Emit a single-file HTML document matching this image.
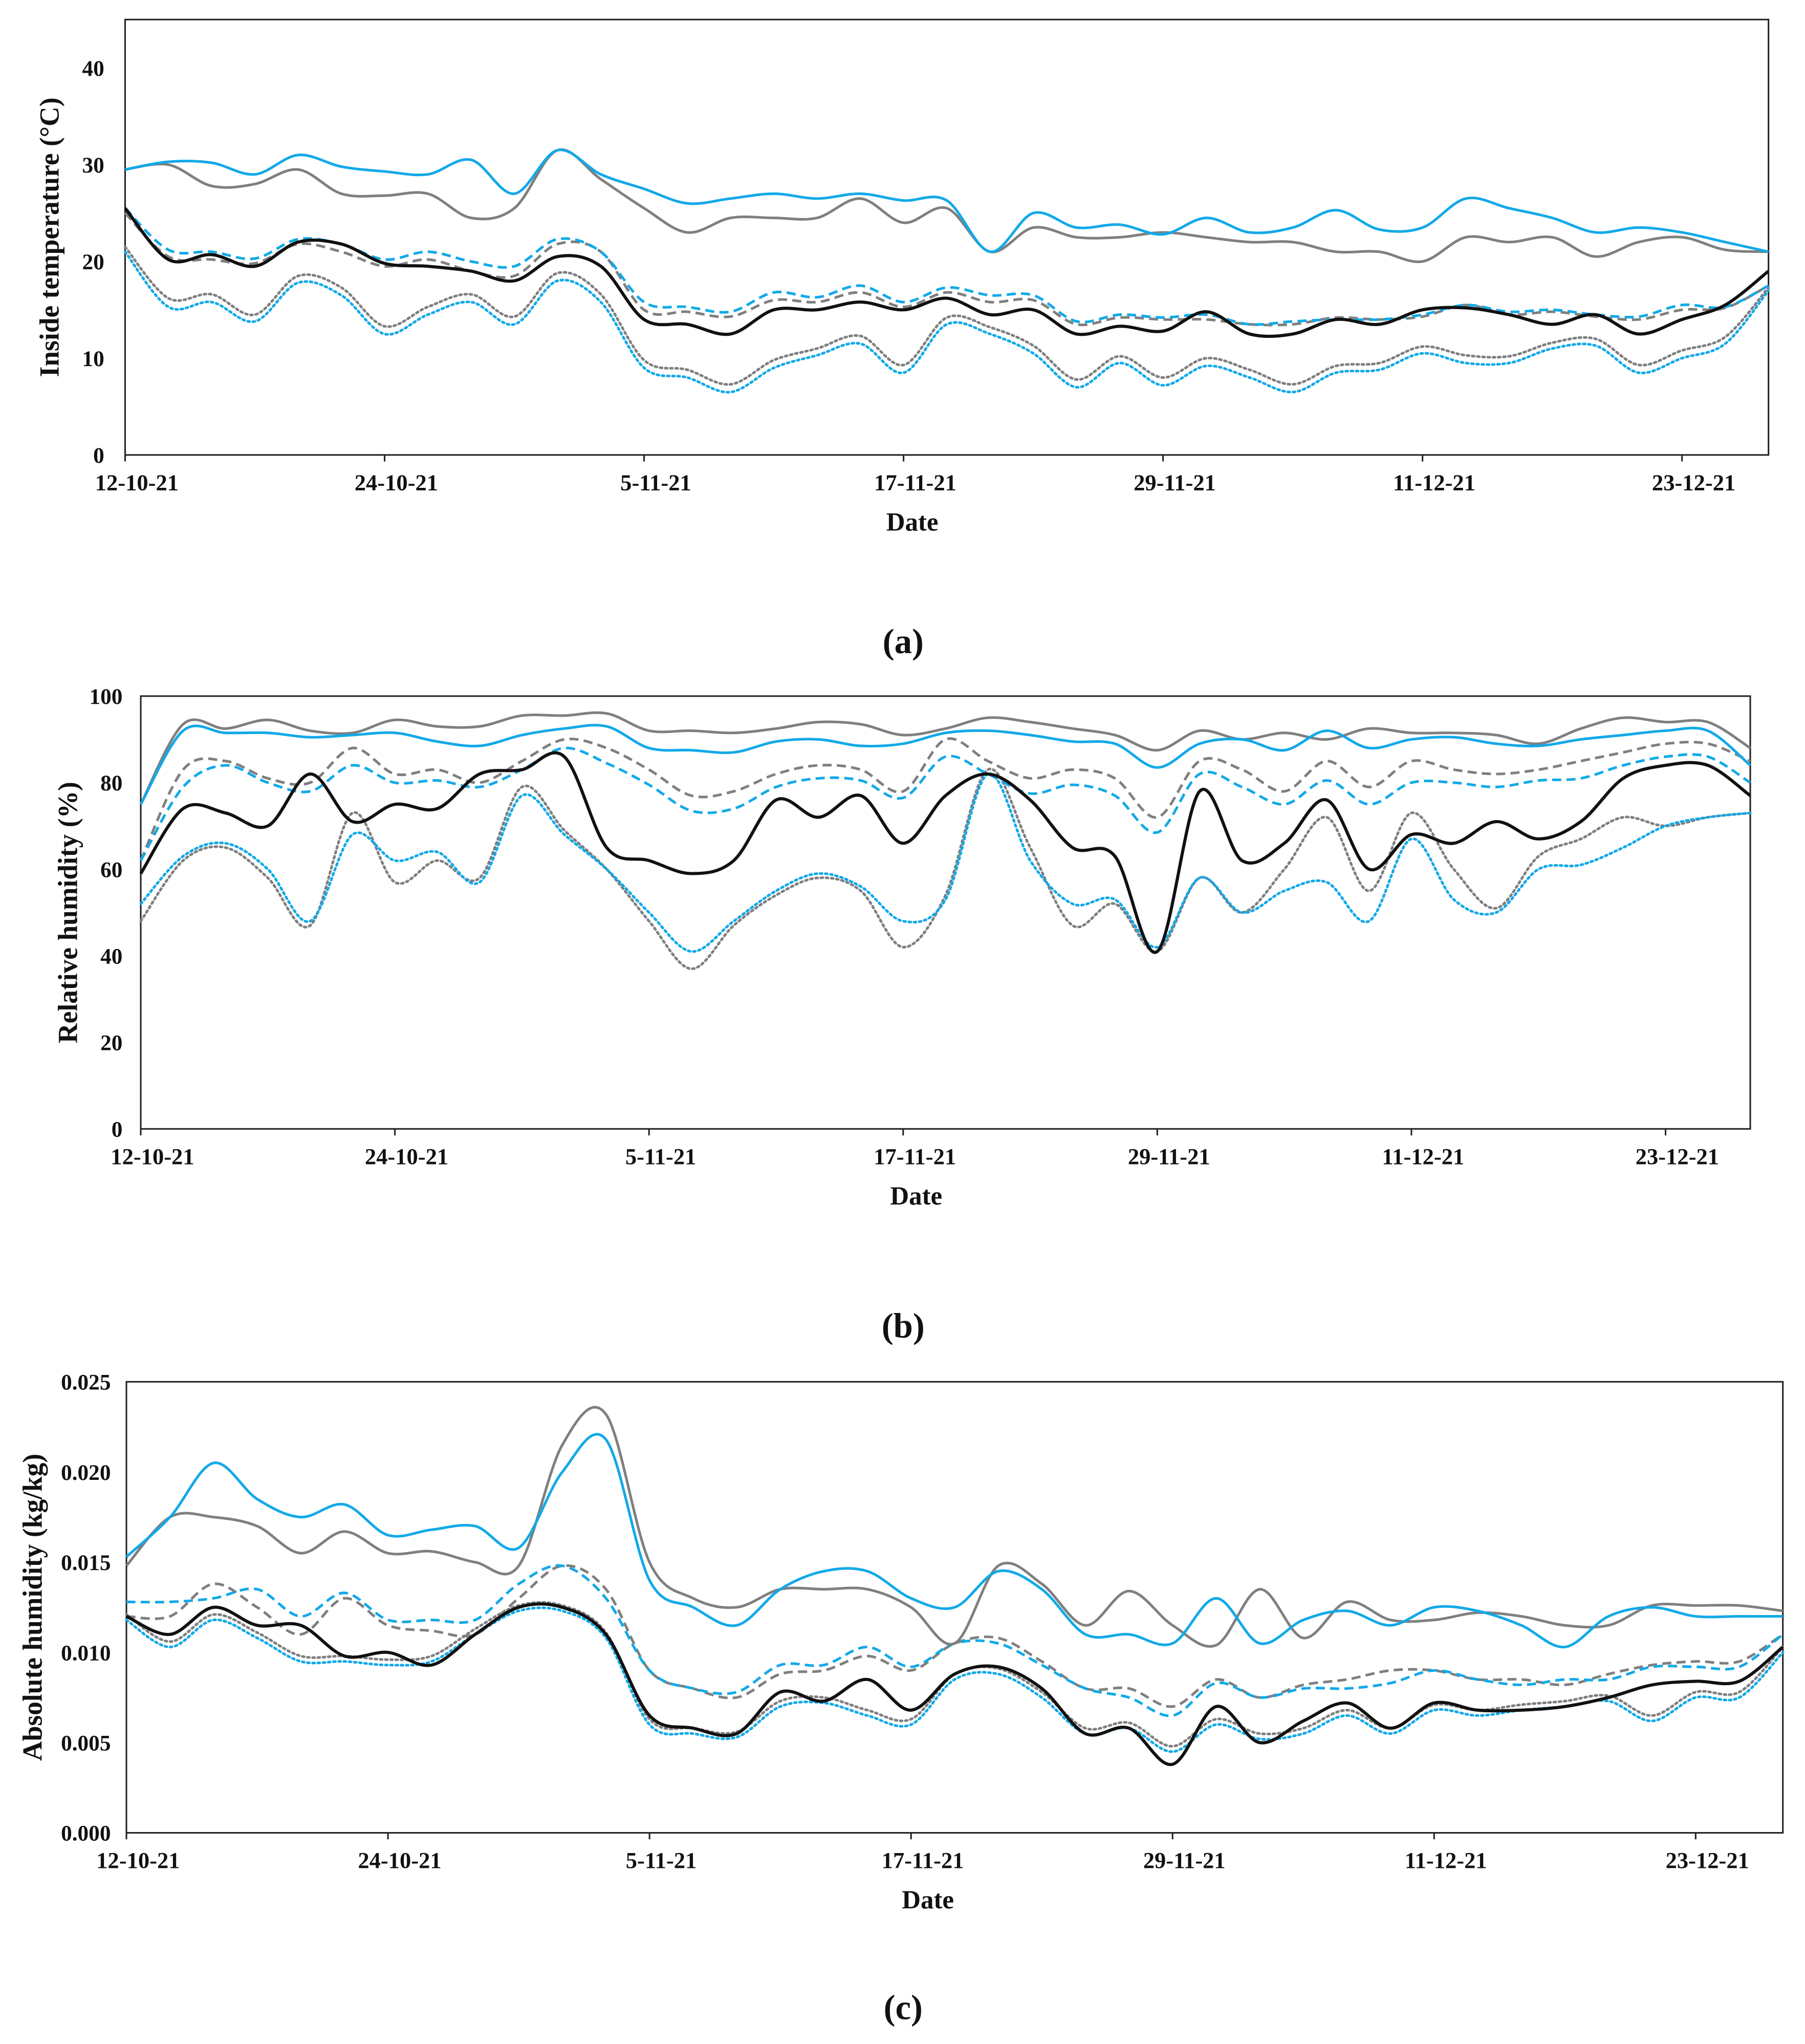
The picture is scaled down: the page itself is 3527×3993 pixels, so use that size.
<!DOCTYPE html>
<html><head><meta charset="utf-8"><style>
html,body{margin:0;padding:0;background:#fff;}
svg{display:block;}
text{font-family:"Liberation Serif",serif;font-weight:bold;fill:#111;}
</style></head><body>
<svg id="fig" width="3527" height="3993" viewBox="0 0 1385 1568" xmlns="http://www.w3.org/2000/svg"></svg>
<script>
const days=[0,2,4,6,8,10,12,14,16,18,20,22,24,26,28,30,32,34,36,38,40,42,44,46,48,50,52,54,56,58,60,62,64,66,68,70,72,74,76];
const xTickLabels=["12-10-21","24-10-21","5-11-21","17-11-21","29-11-21","11-12-21","23-12-21"];
const xTickDays=[0,12,24,36,48,60,72];
// Chart (a) temperature
const aBlueSolid=[29.5,30.3,30.2,29,31,29.8,29.3,29,30.5,27,31.5,29,27.5,26,26.5,27,26.5,27,26.3,26.3,21,25,23.5,23.8,22.8,24.5,23,23.5,25.3,23.3,23.5,26.5,25.5,24.5,23,23.5,23,22,21];
const aGraySolid=[29.5,30,27.8,28,29.5,27,26.8,27,24.5,25.5,31.5,28.5,25.5,23,24.5,24.5,24.5,26.5,24,25.5,21,23.5,22.5,22.5,23,22.5,22,22,21,21,20,22.5,22,22.5,20.5,22,22.5,21.2,21];
const aBlueDash=[25.5,21.2,21,20.3,22.3,21.8,20.2,21,20,19.5,22.3,21,15.8,15.3,14.8,16.8,16.3,17.5,15.8,17.3,16.5,16.5,13.8,14.5,14.2,14.5,13.5,13.8,14,14,14.5,15.5,14.8,15,14.5,14.3,15.5,15.3,17.5];
const aGrayDash=[25,20.5,20.2,19.8,21.8,21,19.5,20.2,19,18.5,21.8,21,15,14.8,14.3,16,15.8,16.8,15.3,16.8,15.8,16,13.5,14.2,14,14,13.5,13.5,14.2,14,14.3,15.5,14.5,14.8,14.3,14,15,15.2,17.5];
const aBlack=[25.5,20.2,20.7,19.5,22,21.8,19.8,19.5,19,18,20.5,19.5,14,13.5,12.5,15,15,15.8,15,16.2,14.5,15,12.5,13.3,12.8,14.8,12.5,12.5,14,13.5,15,15.2,14.5,13.5,14.5,12.5,14,15.5,19];
const aBlueDot=[21,15.3,15.8,13.8,17.8,16.5,12.5,14.5,15.8,13.5,18,15.8,9,8,6.5,9,10.3,11.5,8.5,13.5,12.5,10.5,7,9.5,7.2,9.2,8,6.5,8.5,8.8,10.5,9.5,9.5,11,11.3,8.5,10,11.5,17];
const aGrayDot=[21.5,16.2,16.6,14.5,18.5,17.3,13.3,15.3,16.6,14.3,18.8,16.6,9.8,8.8,7.3,9.8,11,12.3,9.3,14.2,13.2,11.3,7.8,10.2,8,10,8.8,7.3,9.2,9.5,11.2,10.3,10.2,11.6,12,9.3,10.8,12.2,17.3];
// Chart (b) relative humidity
const bGraySolid=[75,93.5,92.5,94.5,92,91.5,94.5,93,93,95.5,95.5,96,92,92,91.5,92.5,94,93.5,91,92.5,95,94,92.5,91,87.5,92,90,91.5,90,92.5,91.5,91.5,91,89,92.5,95,94,94,88];
const bBlueSolid=[75,92,91.5,91.5,90.5,91,91.5,89.5,88.5,91,92.5,93,88,87.5,87,89.5,90,88.5,89,91.5,92,91,89.5,89,83.5,89,90,87.5,92,88,90,90.5,89,88.5,90,91,92,92,84];
const bBlueDash=[62,79,84,80,78,84,80,80.5,79,83,88,84.5,79.5,73.5,74,79,81,80.5,76.5,86,82,77.5,79.5,77,68.5,82,79,75,80.5,75,80,80,79,80.5,81,84,86,86,80];
const bGrayDash=[62,83,85,81,80,88,82,83,80,85,90,88,83,77,78,82,84,83,78,90,85,81,83,81,72,85,83,78,85,79,85,83,82,83,85,87,89,89,85];
const bBlack=[59,74,73,70,82,71,75,74,82,83,86,65,62,59,62,76,72,77,66,77,82,76,65,63,41,78,62,66,76,60,68,66,71,67,71,81,84,84,77];
const bBlueDot=[52,63,66,60,48,68,62,64,57,77,68,60,50,41,48,55,59,56,48,53,82,62,52,53,42,58,50,55,57,48,67,53,50,60,61,65,70,72,73];
const bGrayDot=[48,62,65,58,47,73,57,62,58,79,69,60,48,37,47,54,58,55,42,54,83,65,47,52,41,58,50,60,72,55,73,60,51,63,67,72,70,72,73];
// Chart (c) absolute humidity (kg/kg)
const cGraySolid=[0.0148,0.0175,0.0175,0.0170,0.0155,0.0167,0.0155,0.0156,0.0150,0.0148,0.0215,0.0232,0.0150,0.0130,0.0125,0.0135,0.0135,0.0135,0.0125,0.0105,0.0148,0.0138,0.0115,0.0134,0.0115,0.0104,0.0135,0.0108,0.0128,0.0118,0.0118,0.0122,0.0120,0.0115,0.0115,0.0126,0.0126,0.0126,0.0123];
const cBlueSolid=[0.0153,0.0175,0.0205,0.0185,0.0175,0.0182,0.0165,0.0168,0.0170,0.0158,0.0200,0.0218,0.0140,0.0125,0.0115,0.0135,0.0145,0.0145,0.0130,0.0125,0.0145,0.0135,0.0110,0.0110,0.0105,0.0130,0.0105,0.0118,0.0123,0.0115,0.0125,0.0123,0.0115,0.0103,0.0120,0.0125,0.0120,0.0120,0.0120];
const cBlueDash=[0.0128,0.0128,0.0130,0.0135,0.0120,0.0133,0.0118,0.0118,0.0118,0.0138,0.0148,0.0130,0.0090,0.0080,0.0078,0.0093,0.0093,0.0103,0.0092,0.0105,0.0105,0.0093,0.0080,0.0075,0.0065,0.0083,0.0075,0.0080,0.0080,0.0083,0.0090,0.0085,0.0082,0.0085,0.0085,0.0092,0.0092,0.0092,0.0110];
const cGrayDash=[0.0120,0.0120,0.0138,0.0125,0.0110,0.0130,0.0115,0.0112,0.0110,0.0130,0.0148,0.0135,0.0090,0.0080,0.0075,0.0088,0.0090,0.0098,0.0090,0.0105,0.0108,0.0095,0.0080,0.0080,0.0070,0.0085,0.0075,0.0082,0.0085,0.0090,0.0090,0.0085,0.0085,0.0082,0.0088,0.0093,0.0095,0.0095,0.0110];
const cBlack=[0.0120,0.0110,0.0125,0.0115,0.0115,0.0098,0.0100,0.0093,0.0110,0.0125,0.0125,0.0110,0.0065,0.0058,0.0055,0.0078,0.0073,0.0085,0.0068,0.0088,0.0092,0.0080,0.0055,0.0058,0.0038,0.0070,0.0050,0.0062,0.0072,0.0058,0.0072,0.0068,0.0068,0.0070,0.0075,0.0082,0.0084,0.0084,0.0103];
const cBlueDot=[0.0118,0.0103,0.0118,0.0108,0.0095,0.0095,0.0093,0.0095,0.0110,0.0123,0.0123,0.0108,0.0060,0.0055,0.0053,0.0070,0.0072,0.0065,0.0060,0.0085,0.0088,0.0075,0.0055,0.0058,0.0045,0.0060,0.0052,0.0055,0.0065,0.0055,0.0068,0.0065,0.0068,0.0070,0.0073,0.0062,0.0075,0.0075,0.0100];
const cGrayDot=[0.0121,0.0106,0.0121,0.0111,0.0098,0.0098,0.0096,0.0098,0.0113,0.0126,0.0126,0.0111,0.0063,0.0058,0.0056,0.0073,0.0075,0.0068,0.0063,0.0088,0.0091,0.0078,0.0058,0.0061,0.0048,0.0063,0.0055,0.0058,0.0068,0.0058,0.0071,0.0068,0.0071,0.0073,0.0076,0.0065,0.0078,0.0078,0.0103];

const NS="http://www.w3.org/2000/svg";
const svg=document.getElementById('fig');
function el(tag,attrs,parent){const e=document.createElementNS(NS,tag);for(const k in attrs)e.setAttribute(k,attrs[k]);(parent||svg).appendChild(e);return e;}
function smooth(pts){let d="M"+pts[0][0].toFixed(2)+","+pts[0][1].toFixed(2);
 for(let i=0;i<pts.length-1;i++){const p0=pts[Math.max(0,i-1)],p1=pts[i],p2=pts[i+1],p3=pts[Math.min(pts.length-1,i+2)];
  const c1x=p1[0]+(p2[0]-p0[0])/6,c1y=p1[1]+(p2[1]-p0[1])/6,c2x=p2[0]-(p3[0]-p1[0])/6,c2y=p2[1]-(p3[1]-p1[1])/6;
  d+=" C"+c1x.toFixed(2)+","+c1y.toFixed(2)+" "+c2x.toFixed(2)+","+c2y.toFixed(2)+" "+p2[0].toFixed(2)+","+p2[1].toFixed(2);}
 return d;}
const BLUE="#12a9e8",GRAY="#7f7f7f",BLACK="#111";
function chart(cfg){
 const g=el('g',{});
 
 
 const X=d=>cfg.L+(cfg.R-cfg.L)*d/76;
 const Y=v=>cfg.B-(cfg.B-cfg.T)*(v-0)/(cfg.ymax);
 const frame=el('rect',{x:cfg.L,y:cfg.T,width:cfg.R-cfg.L,height:cfg.B-cfg.T,fill:'none',stroke:'#222','stroke-width':1.2},g);
 
 
 cfg.yTicks.forEach((v,i)=>{
  const t=el('text',{x:cfg.L-cfg.ylabOff,y:Y(v)+6,'text-anchor':'end','font-size':17},g);t.textContent=cfg.yLabels[i];
  
  
 });
 xTickDays.forEach((d,i)=>{
  const tk=el('line',{x1:X(d),x2:X(d),y1:cfg.B,y2:cfg.B+5,stroke:'#222','stroke-width':1.2},g);
  
  
  const t=el('text',{x:X(d)+9,y:cfg.B+27,'text-anchor':'middle','font-size':17.5},g);t.textContent=xTickLabels[i];
  
  
 });
 const xt=el('text',{x:cfg.dateX,y:cfg.B+58,'text-anchor':'middle','font-size':20},g);xt.textContent='Date';
 
 
 const yt=el('text',{x:0,y:0,'text-anchor':'middle','font-size':21,transform:`translate(${cfg.ytX},${(cfg.T+cfg.B)/2}) rotate(-90)`},g);yt.textContent=cfg.yTitle;
 
 
 const pl=el('text',{x:693,y:cfg.panelY,'text-anchor':'middle','font-size':27},g);
 pl.textContent='('+cfg.panel+')';
 
 
 cfg.series.forEach(s=>{
  const pts=days.map((d,i)=>[X(d),Y(s.v[i])]);
  const p=el('path',{d:smooth(pts),fill:'none',stroke:s.c,'stroke-width':s.w||2,'stroke-dasharray':s.dash||'none','stroke-linecap':s.dash===DOT?'round':'butt'},g);
  
  
 });
}
const DOT="1.5 2.5",DASH="7 4";
chart({name:'chart-a-temperature',L:96,R:1357,T:15,B:349,ymax:45,yTicks:[0,10,20,30,40],yLabels:["0","10","20","30","40"],ylabOff:16,ytX:45,yTitle:'Inside temperature (°C)',panel:'a',panelY:501,dateX:700,
 series:[{n:'gray-dotted-line',v:aGrayDot,c:GRAY,dash:DOT},{n:'blue-dotted-line',v:aBlueDot,c:BLUE,dash:DOT},{n:'gray-dashed-line',v:aGrayDash,c:GRAY,dash:DASH},{n:'blue-dashed-line',v:aBlueDash,c:BLUE,dash:DASH},{n:'gray-solid-line',v:aGraySolid,c:GRAY},{n:'blue-solid-line',v:aBlueSolid,c:BLUE},{n:'black-solid-line',v:aBlack,c:BLACK,w:2.4}]});
chart({name:'chart-b-relative-humidity',L:108,R:1343,T:534,B:866,ymax:100,yTicks:[0,20,40,60,80,100],yLabels:["0","20","40","60","80","100"],ylabOff:14,ytX:59,yTitle:'Relative humidity (%)',panel:'b',panelY:1026,dateX:703,
 series:[{n:'gray-dotted-line',v:bGrayDot,c:GRAY,dash:DOT},{n:'blue-dotted-line',v:bBlueDot,c:BLUE,dash:DOT},{n:'gray-dashed-line',v:bGrayDash,c:GRAY,dash:DASH},{n:'blue-dashed-line',v:bBlueDash,c:BLUE,dash:DASH},{n:'gray-solid-line',v:bGraySolid,c:GRAY},{n:'blue-solid-line',v:bBlueSolid,c:BLUE},{n:'black-solid-line',v:bBlack,c:BLACK,w:2.4}]});
chart({name:'chart-c-absolute-humidity',L:97,R:1368,T:1060,B:1406,ymax:0.025,yTicks:[0,0.005,0.01,0.015,0.02,0.025],yLabels:["0.000","0.005","0.010","0.015","0.020","0.025"],ylabOff:12,ytX:32,yTitle:'Absolute humidity (kg/kg)',panel:'c',panelY:1549,dateX:712,
 series:[{n:'gray-dotted-line',v:cGrayDot,c:GRAY,dash:DOT},{n:'blue-dotted-line',v:cBlueDot,c:BLUE,dash:DOT},{n:'gray-dashed-line',v:cGrayDash,c:GRAY,dash:DASH},{n:'blue-dashed-line',v:cBlueDash,c:BLUE,dash:DASH},{n:'gray-solid-line',v:cGraySolid,c:GRAY},{n:'blue-solid-line',v:cBlueSolid,c:BLUE},{n:'black-solid-line',v:cBlack,c:BLACK,w:2.4}]});
</script>
</body></html>
